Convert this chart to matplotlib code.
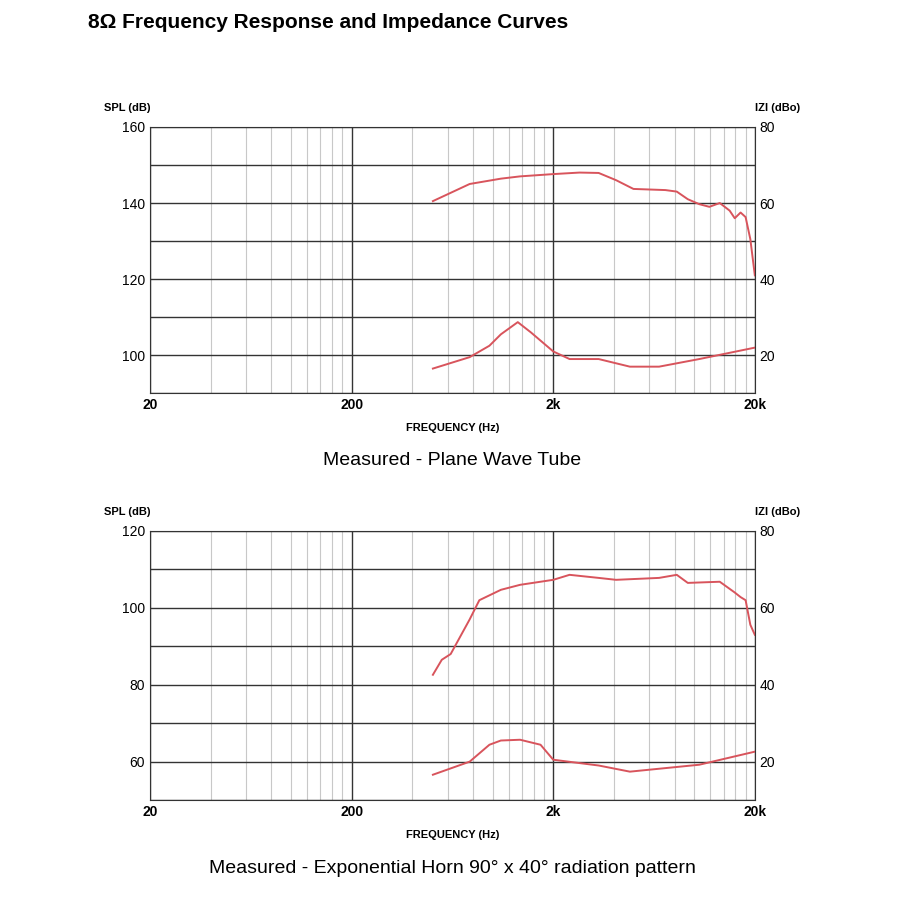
import matplotlib

matplotlib.use("Agg")
import matplotlib.pyplot as plt
from matplotlib.ticker import FixedLocator, NullFormatter

plt.rcParams["font.family"] = "Liberation Sans"

# --- data ---
top_spl_f = [506, 770, 1100, 1370, 2000, 2700, 3360, 4100, 5000, 7200, 8200, 9300,
             10600, 11900, 13400, 15000, 15900, 17000, 18000, 19000, 20000]
top_spl_db = [140.5, 145, 146.4, 147, 147.6, 148, 147.9, 146, 143.7, 143.4, 143, 141,
              139.7, 139, 140, 138, 136, 137.5, 136.3, 130.5, 121]
top_imp_f = [506, 770, 965, 1100, 1334, 1550, 2000, 2410, 3360, 4800, 6700, 10600, 20000]
top_imp_dbo = [16.5, 19.5, 22.5, 25.5, 28.7, 26, 21, 19, 19, 17, 17, 19, 22]

bot_spl_f = [506, 560, 620, 770, 860, 1100, 1370, 2000, 2410, 3360, 4100, 6700, 8200,
             9300, 13400, 15900, 17000, 18000, 19000, 20000]
bot_spl_db = [82.6, 86.5, 88, 97, 102, 104.7, 106, 107.3, 108.6, 107.8, 107.3, 107.8,
              108.6, 106.5, 106.8, 104, 102.8, 102, 95.6, 93]
bot_imp_f = [506, 770, 965, 1100, 1370, 1730, 2000, 3360, 4800, 10600, 20000]
bot_imp_dbo = [16.6, 20, 24.4, 25.5, 25.7, 24.4, 20.5, 19, 17.4, 19.2, 22.6]

x_ticks = [20, 200, 2000, 20000]
x_labels = ["20", "200", "2k", "20k"]
RED = "#d8545c"


def draw_panel(ax, spl_f, spl_db, imp_f, imp_dbo, ylim, offset, caption):
    y_low, y_high = ylim
    ax.set_xscale("log")
    ax.set_xlim(20, 20000)
    ax.set_ylim(y_low, y_high)
    ax.plot(spl_f, spl_db, color=RED, lw=1.4)
    ax.plot(imp_f, [v + offset for v in imp_dbo], color=RED, lw=1.4)
    ax.xaxis.set_major_locator(FixedLocator(x_ticks))
    ax.set_xticklabels(x_labels, fontsize=9, fontweight="bold")
    minors = [m * d for d in (20, 200, 2000) for m in range(2, 10)]
    ax.xaxis.set_minor_locator(FixedLocator(minors))
    ax.xaxis.set_minor_formatter(NullFormatter())
    ax.set_yticks(range(int(y_low), int(y_high) + 1, 10), minor=True)
    ax.set_yticks(range(int(y_low) + 10, int(y_high) + 1, 20))
    ax.grid(True, which="major", axis="x", color="#333333", lw=1.0)
    ax.grid(True, which="minor", axis="x", color="#c8c8c8", lw=0.8)
    ax.grid(True, which="both", axis="y", color="#333333", lw=1.0)
    ax.tick_params(which="both", length=0, labelsize=10)
    for s in ax.spines.values():
        s.set_color("#333333")
    ax.set_xlabel("FREQUENCY (Hz)", fontsize=8, fontweight="bold", labelpad=8)
    ax.text(0, 1.06, "SPL (dB)", transform=ax.transAxes, fontsize=8,
            fontweight="bold", ha="right")
    ax.text(1, 1.06, "IZI (dBo)", transform=ax.transAxes, fontsize=8,
            fontweight="bold", ha="left")
    ax.text(0.5, -0.27, caption, transform=ax.transAxes, fontsize=14, ha="center")
    ax2 = ax.twinx()
    ax2.set_ylim(y_low - offset, y_high - offset)
    ax2.set_yticks(range(int(y_low - offset) + 10, int(y_high - offset) + 1, 20))
    ax2.tick_params(which="both", length=0, labelsize=10)
    for s in ax2.spines.values():
        s.set_visible(False)


fig = plt.figure(figsize=(9, 9), dpi=100)
fig.text(0.098, 0.985, "8\u03a9 Frequency Response and Impedance Curves",
         fontsize=15, fontweight="bold", va="top")
ax_top = fig.add_axes([0.1667, 0.563, 0.672, 0.296])
ax_bot = fig.add_axes([0.1667, 0.111, 0.672, 0.299])
draw_panel(ax_top, top_spl_f, top_spl_db, top_imp_f, top_imp_dbo, (90, 160), 80,
           "Measured - Plane Wave Tube")
draw_panel(ax_bot, bot_spl_f, bot_spl_db, bot_imp_f, bot_imp_dbo, (50, 120), 40,
           "Measured - Exponential Horn 90\u00b0 x 40\u00b0 radiation pattern")
fig.savefig("out.png", dpi=100)
